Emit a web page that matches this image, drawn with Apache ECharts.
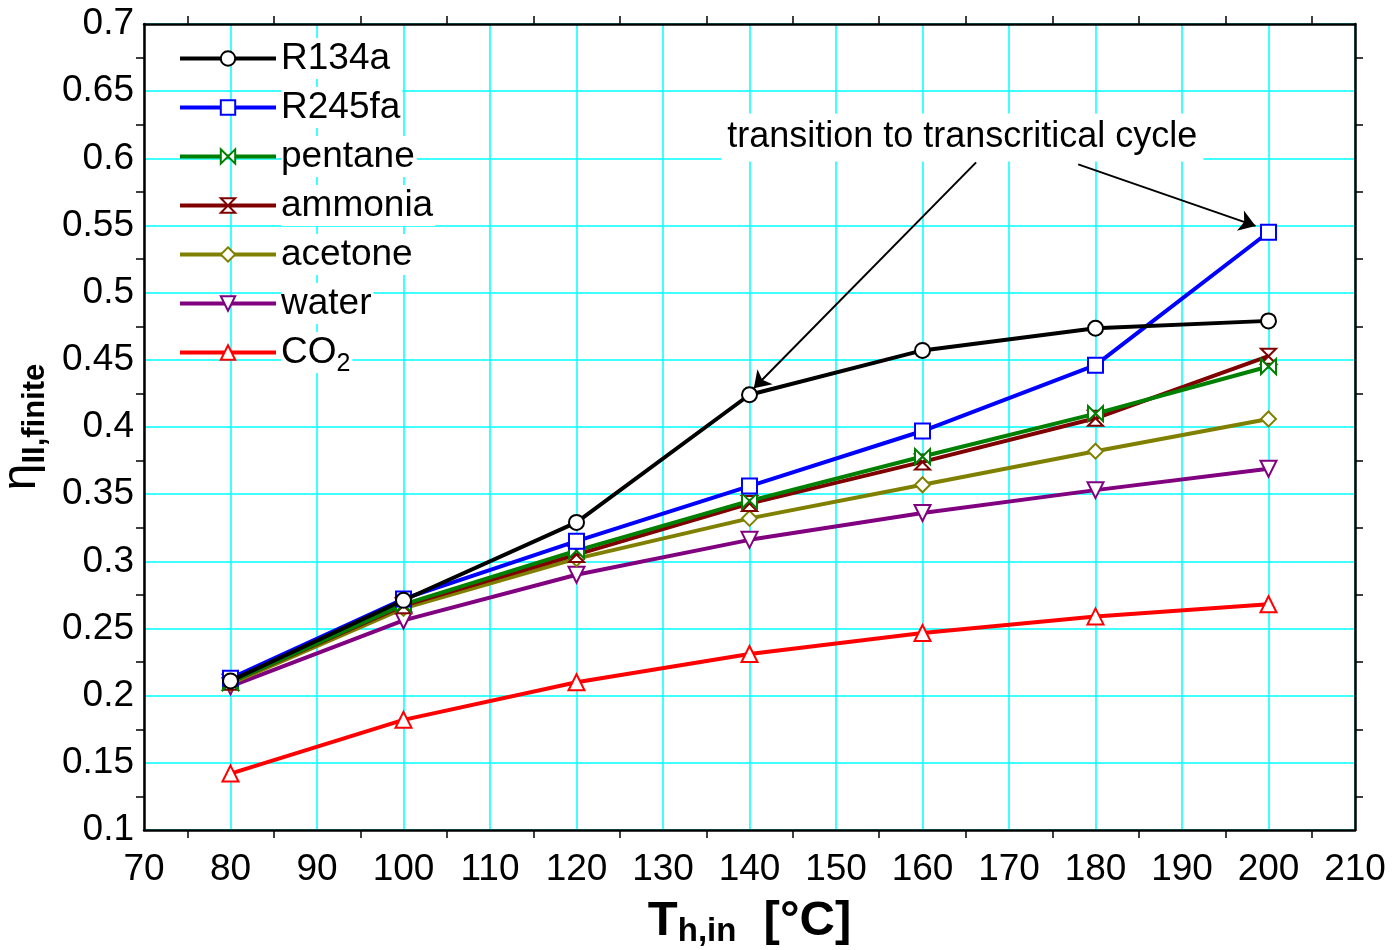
<!DOCTYPE html>
<html>
<head>
<meta charset="utf-8">
<script src="https://cdn.jsdelivr.net/npm/echarts@6/dist/echarts.min.js"></script>
<style>
  html, body { margin: 0; padding: 0; background: #fff; }
  #chart { width: 1392px; height: 950px; }
</style>
</head>
<body>
<div id="chart"></div>
<script>
// hot inlet temperature [°C]
var temps = [80, 100, 120, 140, 160, 180, 200];

var r134a   = [0.211, 0.271, 0.329, 0.424, 0.457, 0.4735, 0.479];
var r245fa  = [0.213, 0.272, 0.315, 0.356, 0.397, 0.446, 0.545];
var pentane = [0.210, 0.268, 0.308, 0.345, 0.378, 0.410, 0.445];
var ammonia = [0.210, 0.267, 0.305, 0.343, 0.374, 0.4065, 0.4527];
var acetone = [0.209, 0.265, 0.302, 0.332, 0.357, 0.382, 0.406];
var water   = [0.207, 0.256, 0.290, 0.316, 0.336, 0.353, 0.369];
var co2     = [0.142, 0.182, 0.210, 0.231, 0.2466, 0.259, 0.268];

var names = ['R134a', 'R245fa', 'pentane', 'ammonia', 'acetone', 'water', 'CO2'];
var colors = ['#000000', '#0000ff', '#008000', '#800000', '#808000', '#800080', '#ff0000'];

var SYM_BOWTIE = 'path://M0,0L10,10L10,0L0,10Z';
var SYM_HOURGLASS = 'path://M0,0L10,0L0,10L10,10Z';
var SYM_TRI_DOWN = 'path://M0,0L10,0L5,9Z';
var SYM_TRI_UP = 'path://M5,0L10,9L0,9Z';
var symbols = ['circle', 'rect', SYM_BOWTIE, SYM_HOURGLASS, 'diamond', SYM_TRI_DOWN, SYM_TRI_UP];
var symSizes = [15, 15, 15, 15, 15, 16, 16];

var values = [r134a, r245fa, pentane, ammonia, acetone, water, co2];

// annotation arrows (data coords)
var arrowToR134a = [[166.2, 0.597], [140.5, 0.4289]];
var arrowToR245fa = [[178.0, 0.5955], [198.5, 0.5497]];
var noteAt = [164.6, 0.6156];

var FONT = 'Liberation Sans, Arial, sans-serif';

function pairs(arr) {
  return temps.map(function (t, i) { return [t, arr[i]]; });
}

var series = names.map(function (n, k) {
  return {
    name: n,
    type: 'line',
    data: pairs(values[k]),
    symbol: symbols[k],
    symbolSize: symSizes[k],
    showAllSymbol: true,
    z: k === 0 ? 20 : 10 - k,
    color: colors[k],
    lineStyle: { color: colors[k], width: 4 },
    itemStyle: { color: '#fff', borderColor: colors[k], borderWidth: 2 },
    emphasis: { disabled: true },
    animation: false
  };
});

series[0].markLine = {
  silent: true,
  animation: false,
  symbol: ['none', 'arrow'],
  symbolSize: 16,
  label: { show: false },
  lineStyle: { color: '#000', width: 2, type: 'solid' },
  data: [
    [{ coord: arrowToR134a[0] }, { coord: arrowToR134a[1] }],
    [{ coord: arrowToR245fa[0] }, { coord: arrowToR245fa[1] }]
  ]
};
series[0].markPoint = {
  silent: true,
  animation: false,
  symbol: 'circle',
  symbolSize: 0,
  data: [{ coord: noteAt }],
  label: {
    show: true,
    position: 'inside',
    formatter: 'transition to transcritical cycle',
    color: '#000',
    fontFamily: FONT,
    fontSize: 36,
    backgroundColor: '#fff',
    padding: [6, 6, 6, 6]
  }
};

var chart = echarts.init(document.getElementById('chart'));

var minorTick = { show: true, splitNumber: 2, length: 8, lineStyle: { color: '#000', width: 1.5 } };
var axisLine = { show: true, onZero: false, lineStyle: { color: '#000', width: 2.5 } };

chart.setOption({
  backgroundColor: '#fff',
  animation: false,
  grid: { left: 144, right: 37, top: 24, bottom: 120, outerBoundsMode: 'none', containLabel: false },
  legend: {
    orient: 'vertical',
    left: 178,
    top: 38,
    padding: 0,
    itemWidth: 96,
    itemHeight: 18,
    itemGap: 8,
    data: names,
    selectedMode: false,
    lineStyle: { width: 4 },
    formatter: function (n) { return n === 'CO2' ? 'CO{sub|2}' : n; },
    textStyle: {
      fontFamily: FONT,
      fontSize: 37,
      lineHeight: 41,
      color: '#000',
      backgroundColor: '#fff',
      padding: [0, 2, 0, 0],
      rich: {
        sub: { fontFamily: FONT, fontSize: 25, lineHeight: 25, color: '#000', padding: [20, 0, 0, 0], verticalAlign: 'top', backgroundColor: '#fff' }
      }
    }
  },
  xAxis: [
    {
      type: 'value', min: 70, max: 210, interval: 10, position: 'bottom',
      name: 'T{sub|h,in}  [°C]',
      nameLocation: 'middle',
      nameGap: 67,
      nameTextStyle: {
        fontFamily: FONT, fontSize: 49, fontWeight: 'bold', color: '#000',
        rich: {
          sub: { fontFamily: FONT, fontSize: 33, fontWeight: 'bold', color: '#000', verticalAlign: 'top', padding: [18, 0, 0, 0], lineHeight: 33 }
        }
      },
      axisLine: axisLine,
      axisTick: { show: false },
      minorTick: minorTick,
      axisLabel: { fontFamily: FONT, fontSize: 37, color: '#000', margin: 21 },
      splitLine: { show: true, lineStyle: { color: '#00ffff', width: 1.5 } }
    },
    {
      type: 'value', min: 70, max: 210, interval: 10, position: 'top',
      axisLine: axisLine,
      axisTick: { show: false },
      minorTick: minorTick,
      axisLabel: { show: false },
      splitLine: { show: false }
    }
  ],
  yAxis: [
    {
      type: 'value', min: 0.1, max: 0.7, interval: 0.05, position: 'left',
      name: 'η{sub|II,finite}',
      nameLocation: 'middle',
      nameRotate: 90,
      nameGap: 92,
      nameTextStyle: {
        fontFamily: FONT, fontSize: 48, color: '#000',
        rich: {
          sub: { fontFamily: FONT, fontSize: 31, fontWeight: 'bold', color: '#000', verticalAlign: 'top', padding: [22, 0, 0, 0], lineHeight: 31 }
        }
      },
      axisLine: axisLine,
      axisTick: { show: false },
      minorTick: minorTick,
      axisLabel: {
        fontFamily: FONT, fontSize: 37, color: '#000', margin: 10,
        formatter: function (v) { return String(Math.round(v * 1000) / 1000); }
      },
      splitLine: { show: true, lineStyle: { color: '#00ffff', width: 1.5 } }
    },
    {
      type: 'value', min: 0.1, max: 0.7, interval: 0.05, position: 'right',
      axisLine: axisLine,
      axisTick: { show: false },
      minorTick: minorTick,
      axisLabel: { show: false },
      splitLine: { show: false }
    }
  ],
  series: series
});
</script>
</body>
</html>
